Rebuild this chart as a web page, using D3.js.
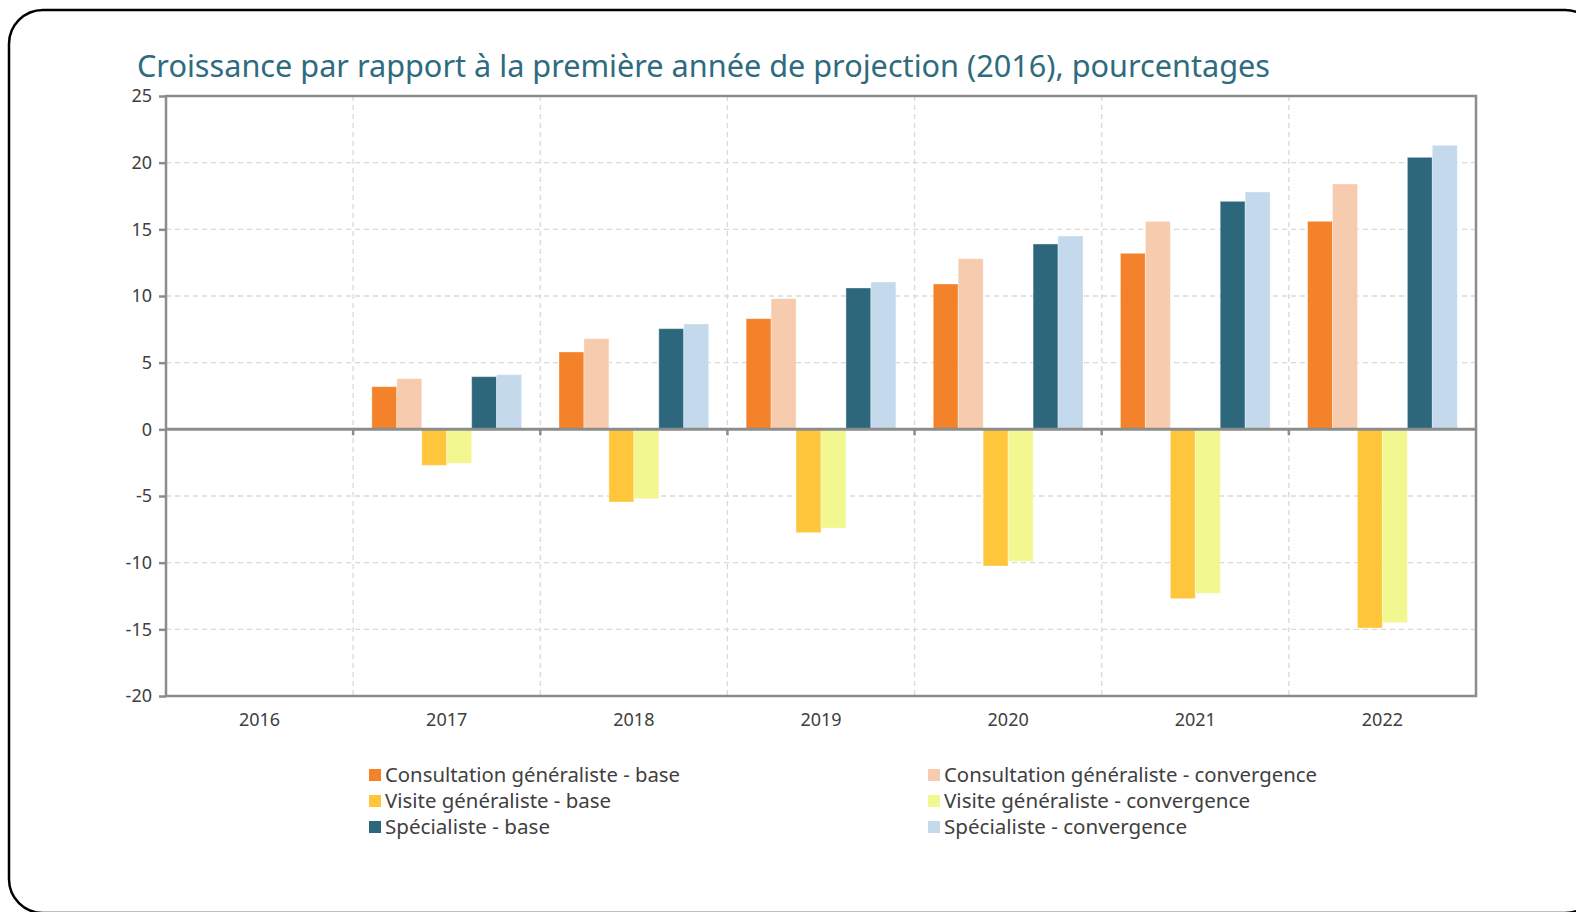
<!DOCTYPE html>
<html>
<head>
<meta charset="utf-8">
<script src="https://cdn.jsdelivr.net/npm/d3@7"></script>
<style>
  body { margin: 0; background: #fff; }
  svg { display: block; }
  text { font-family: "Noto Sans", "DejaVu Sans", sans-serif; }
</style>
</head>
<body>
<svg id="chart" width="1576" height="912"></svg>
<script>
// data
const years = ["2016", "2017", "2018", "2019", "2020", "2021", "2022"];
const seriesNames = [
  "Consultation généraliste - base",
  "Consultation généraliste - convergence",
  "Visite généraliste - base",
  "Visite généraliste - convergence",
  "Spécialiste - base",
  "Spécialiste - convergence"
];
const consultBase = [0, 3.2, 5.8, 8.3, 10.9, 13.2, 15.6];
const consultConv = [0, 3.8, 6.8, 9.8, 12.8, 15.6, 18.4];
const visiteBase = [0, -2.7, -5.45, -7.75, -10.25, -12.7, -14.9];
const visiteConv = [0, -2.55, -5.2, -7.4, -9.9, -12.3, -14.5];
const specBase = [0, 3.95, 7.55, 10.6, 13.9, 17.1, 20.4];
const specConv = [0, 4.1, 7.9, 11.05, 14.5, 17.8, 21.3];
const yTicks = [25, 20, 15, 10, 5, 0, -5, -10, -15, -20];

const seriesValues = [consultBase, consultConv, visiteBase, visiteConv, specBase, specConv];
const colors = ["#f4822a", "#f7cbae", "#ffc63c", "#f2f78f", "#2d677b", "#c4d9ec"];

const svg = d3.select("#chart");
const plotLeft = 166, plotRight = 1476, plotTop = 96, plotBottom = 696;
const axisGray = "#8c8c8c";
const textGray = "#404040";

// outer rounded frame (bottom edge sits at the page edge)
svg.append("rect")
  .attr("x", 9).attr("y", 10)
  .attr("width", 1590).attr("height", 903)
  .attr("rx", 34).attr("ry", 34)
  .attr("fill", "none").attr("stroke", "#000").attr("stroke-width", 2.5);

// title
svg.append("text")
  .attr("x", 137).attr("y", 77)
  .attr("font-size", 30)
  .attr("fill", "#2e6b7e")
  .attr("textLength", 1133).attr("lengthAdjust", "spacingAndGlyphs")
  .text("Croissance par rapport à la première année de projection (2016), pourcentages");

const x = d3.scaleBand().domain(years).range([plotLeft, plotRight]).padding(0);
const xs = d3.scaleBand().domain(d3.range(seriesNames.length))
  .range([0, x.bandwidth()]).paddingInner(0).paddingOuter(0.75);
const y = d3.scaleLinear().domain([-20, 25]).range([plotBottom, plotTop]);

// horizontal grid
svg.append("g").selectAll("line")
  .data(yTicks.filter(d => d !== 0 && d !== 25 && d !== -20))
  .join("line")
  .attr("x1", plotLeft).attr("x2", plotRight)
  .attr("y1", d => y(d)).attr("y2", d => y(d))
  .attr("stroke", "#d9d9d9").attr("stroke-width", 1.3).attr("stroke-dasharray", "5,4");

// vertical grid at category boundaries
svg.append("g").selectAll("line")
  .data(years.slice(1))
  .join("line")
  .attr("x1", d => x(d)).attr("x2", d => x(d))
  .attr("y1", plotTop).attr("y2", plotBottom)
  .attr("stroke", "#d9d9d9").attr("stroke-width", 1.3).attr("stroke-dasharray", "5,4");

// bars
const bars = [];
years.forEach((yr, i) => {
  seriesValues.forEach((vals, s) => {
    bars.push({ year: yr, s: s, v: vals[i] });
  });
});
svg.append("g").selectAll("rect")
  .data(bars.filter(d => d.v !== 0))
  .join("rect")
  .attr("x", d => x(d.year) + xs(d.s))
  .attr("width", xs.bandwidth())
  .attr("y", d => y(Math.max(0, d.v)))
  .attr("height", d => Math.abs(y(d.v) - y(0)))
  .attr("fill", d => colors[d.s])
  .attr("stroke", "#fff").attr("stroke-opacity", 0.35).attr("stroke-width", 1);

// plot frame
svg.append("rect")
  .attr("x", plotLeft).attr("y", plotTop)
  .attr("width", plotRight - plotLeft).attr("height", plotBottom - plotTop)
  .attr("fill", "none").attr("stroke", axisGray).attr("stroke-width", 2.5);

// y axis ticks + labels
const yAxis = d3.axisLeft(y).tickValues(yTicks).tickSize(7).tickPadding(7).tickFormat(d3.format("d"));
const gy = svg.append("g").attr("transform", `translate(${plotLeft},0)`).call(yAxis);
gy.select(".domain").remove();
gy.selectAll(".tick line").attr("stroke", axisGray).attr("stroke-width", 2.5);
gy.selectAll(".tick text")
  .attr("fill", textGray).attr("font-size", 18)
  .text(d => d < 0 ? "-" + Math.abs(d) : d);

// zero line with ticks at category boundaries
svg.append("line")
  .attr("x1", plotLeft).attr("x2", plotRight)
  .attr("y1", y(0)).attr("y2", y(0))
  .attr("stroke", axisGray).attr("stroke-width", 3);
svg.append("g").selectAll("line")
  .data(years.slice(1))
  .join("line")
  .attr("x1", d => x(d)).attr("x2", d => x(d))
  .attr("y1", y(0)).attr("y2", y(0) + 6)
  .attr("stroke", axisGray).attr("stroke-width", 2.5);

// x labels
svg.append("g").selectAll("text")
  .data(years)
  .join("text")
  .attr("x", d => x(d) + x.bandwidth() / 2)
  .attr("y", 726)
  .attr("text-anchor", "middle")
  .attr("fill", textGray).attr("font-size", 18)
  .text(d => d);

// legend
const legendPos = [
  { x: 369, y: 775, w: 295 }, { x: 928, y: 775, w: 373 },
  { x: 369, y: 801, w: 226 }, { x: 928, y: 801, w: 306 },
  { x: 369, y: 827, w: 165 }, { x: 928, y: 827, w: 243 }
];
const lg = svg.append("g").selectAll("g")
  .data(seriesNames)
  .join("g")
  .attr("transform", (d, i) => `translate(${legendPos[i].x},${legendPos[i].y})`);
lg.append("rect")
  .attr("x", 0).attr("y", -6).attr("width", 12).attr("height", 12)
  .attr("fill", (d, i) => colors[i]);
lg.append("text")
  .attr("x", 16).attr("y", 7)
  .attr("font-size", 19).attr("fill", textGray)
  .attr("textLength", (d, i) => legendPos[i].w).attr("lengthAdjust", "spacingAndGlyphs")
  .text(d => d);
</script>
</body>
</html>
